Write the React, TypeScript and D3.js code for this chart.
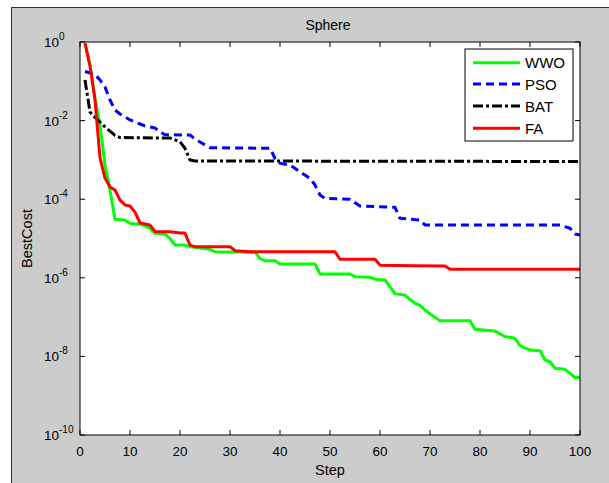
import React from "react";
import * as d3 from "d3";

const xTicks = [0, 10, 20, 30, 40, 50, 60, 70, 80, 90, 100];
const yTickExps = [0, -2, -4, -6, -8, -10];

const seriesNames = ["WWO", "PSO", "BAT", "FA"];

const wwo: [number, number][] = [
  [1, 0.94], [2, 0.26], [3, 0.0376], [4, 7.7e-3], [5, 7.4e-4], [6, 1.7e-4], [7, 3.1e-5],
  [9, 2.95e-5], [10, 2.4e-5], [12, 2.3e-5], [13, 2.1e-5], [14, 1.8e-5], [15, 1.35e-5],
  [17, 1.3e-5], [18, 1.0e-5], [19, 6.8e-6], [21, 6.8e-6], [22, 6.2e-6], [26, 5.3e-6],
  [27, 4.6e-6], [35, 4.5e-6], [36, 3.1e-6], [37, 2.7e-6], [39, 2.7e-6], [40, 2.25e-6],
  [47, 2.25e-6], [48, 1.25e-6], [54, 1.25e-6], [55, 1.07e-6], [58, 1.03e-6], [59, 9.2e-7],
  [61, 8.8e-7], [62, 5.9e-7], [63, 3.9e-7], [65, 3.65e-7], [66, 2.8e-7], [67, 2.25e-7],
  [68, 2.0e-7], [69, 1.5e-7], [72, 8.1e-8], [78, 8.1e-8], [79, 4.9e-8], [83, 4.4e-8],
  [85, 3.2e-8], [87, 2.9e-8], [88, 1.87e-8], [90, 1.45e-8], [92, 1.4e-8], [93, 8.1e-9],
  [94, 7.3e-9], [95, 5.0e-9], [97, 4.7e-9], [98, 3.7e-9], [99, 2.9e-9], [100, 2.9e-9],
];

const pso: [number, number][] = [
  [1, 0.178], [3, 0.149], [4, 0.108], [5, 0.0716], [6, 0.0334], [7, 0.0186], [8, 0.0147],
  [9, 0.0124], [10, 0.0104], [11, 9.2e-3], [12, 8.2e-3], [13, 7.3e-3], [14, 6.9e-3],
  [15, 6.5e-3], [16, 5.1e-3], [17, 4.4e-3], [22, 4.3e-3], [23, 3.4e-3], [24, 2.85e-3],
  [26, 2.04e-3], [38, 1.97e-3], [39, 1.1e-3], [40, 8.2e-4], [42, 7.4e-4], [44, 5.0e-4],
  [46, 3.4e-4], [47, 2.3e-4], [48, 1.28e-4], [49, 1.05e-4], [54, 9.9e-5], [56, 6.7e-5],
  [63, 6.2e-5], [64, 3.27e-5], [68, 2.96e-5], [69, 2.2e-5], [96, 2.2e-5], [98, 1.82e-5],
  [99, 1.3e-5], [100, 1.23e-5],
];

const bat: [number, number][] = [
  [1, 0.108], [2, 0.0165], [3, 0.012], [4, 9.2e-3], [5, 6.9e-3], [6, 5.4e-3], [7, 4.2e-3],
  [8, 3.7e-3], [18, 3.6e-3], [20, 2.9e-3], [21, 1.97e-3], [22, 9.9e-4], [23, 9.4e-4],
  [100, 9.1e-4],
];

const fa: [number, number][] = [
  [1, 0.94], [2, 0.245], [3, 0.0334], [4, 1.12e-3], [5, 3.46e-4], [6, 2.04e-4], [7, 1.71e-4],
  [8, 9.5e-5], [9, 7.1e-5], [10, 6.7e-5], [11, 4.7e-5], [12, 2.5e-5], [13, 2.34e-5],
  [14, 2.2e-5], [15, 1.49e-5], [18, 1.49e-5], [20, 1.38e-5], [21, 1.38e-5], [22, 6.8e-6],
  [23, 6.2e-6], [30, 6.2e-6], [31, 4.9e-6], [34, 4.6e-6], [51, 4.6e-6], [52, 2.96e-6],
  [59, 2.96e-6], [60, 2.1e-6], [67, 2.03e-6], [73, 2.0e-6], [74, 1.64e-6], [100, 1.64e-6],
];

const W = 609;
const H = 483;
const L = 80, R = 580, T = 42, B = 435;
const FONT = "'Liberation Sans', Arial, Helvetica, sans-serif";

export default function App() {
  const x = d3.scaleLinear().domain([0, 100]).range([L, R]);
  const y = d3.scaleLog().domain([1e-10, 1]).range([B, T]);
  const line = d3
    .line<[number, number]>()
    .x((d) => x(d[0]))
    .y((d) => y(d[1]));

  const styles = [
    { data: wwo, color: "#00ff00", dash: undefined as string | undefined },
    { data: pso, color: "#0000ff", dash: "8,5" },
    { data: bat, color: "#000000", dash: "10,3,3,3" },
    { data: fa, color: "#ff0000", dash: undefined as string | undefined },
  ];

  const legendX = 465, legendY = 49, legendW = 108, legendH = 92;
  const legendRows = [62.7, 84, 106, 128.3];

  return (
    <svg
      width={W}
      height={H}
      style={{ position: "absolute", left: 0, top: 0, background: "#ffffff" }}
      fontFamily={FONT}
    >
      <rect x={11.5} y={7.5} width={W} height={H} fill="#cccccc" stroke="#333333" strokeWidth={1} />
      <text x={328} y={25} textAnchor="middle" dominantBaseline="central" fontSize={14} fill="#000">
        Sphere
      </text>
      <rect x={L} y={T} width={R - L} height={B - T} fill="#ffffff" />
      <clipPath id="plotclip">
        <rect x={L} y={T - 2} width={R - L} height={B - T + 4} />
      </clipPath>
      <g clipPath="url(#plotclip)">
        {styles.map((s, i) => (
          <path
            key={i}
            d={line(s.data) || ""}
            fill="none"
            stroke={s.color}
            strokeWidth={3}
            strokeDasharray={s.dash}
            strokeLinejoin="round"
          />
        ))}
      </g>
      {xTicks.map((t) => (
        <g key={"xt" + t}>
          <line x1={x(t)} x2={x(t)} y1={B} y2={B - 5} stroke="#000" />
          <line x1={x(t)} x2={x(t)} y1={T} y2={T + 5} stroke="#000" />
          <text x={x(t)} y={451} textAnchor="middle" dominantBaseline="central" fontSize={13.5} fill="#000">
            {t}
          </text>
        </g>
      ))}
      {yTickExps.map((e) => (
        <g key={"yt" + e}>
          <line x1={L} x2={L + 5} y1={y(Math.pow(10, e))} y2={y(Math.pow(10, e))} stroke="#000" />
          <line x1={R} x2={R - 5} y1={y(Math.pow(10, e))} y2={y(Math.pow(10, e))} stroke="#000" />
          <text x={44} y={y(Math.pow(10, e)) + 5} fontSize={13.5} fill="#000">
            10
            <tspan dy={-7} fontSize={10}>
              {e}
            </tspan>
          </text>
        </g>
      ))}
      <rect x={L} y={T} width={R - L} height={B - T} fill="none" stroke="#000" strokeWidth={1} />
      <text x={330} y={470} textAnchor="middle" dominantBaseline="central" fontSize={14.5} fill="#000">
        Step
      </text>
      <text
        transform={`translate(27,${(T + B) / 2}) rotate(-90)`}
        textAnchor="middle"
        dominantBaseline="central"
        fontSize={14.5}
        fill="#000"
      >
        BestCost
      </text>
      <rect x={legendX} y={legendY} width={legendW} height={legendH} fill="#ffffff" stroke="#000" strokeWidth={1} />
      {styles.map((s, i) => (
        <g key={"lg" + i}>
          <line
            x1={473}
            x2={520}
            y1={legendRows[i]}
            y2={legendRows[i]}
            stroke={s.color}
            strokeWidth={3}
            strokeDasharray={s.dash}
          />
          <text x={525} y={legendRows[i]} dominantBaseline="central" fontSize={15} fill="#000">
            {seriesNames[i]}
          </text>
        </g>
      ))}
    </svg>
  );
}
